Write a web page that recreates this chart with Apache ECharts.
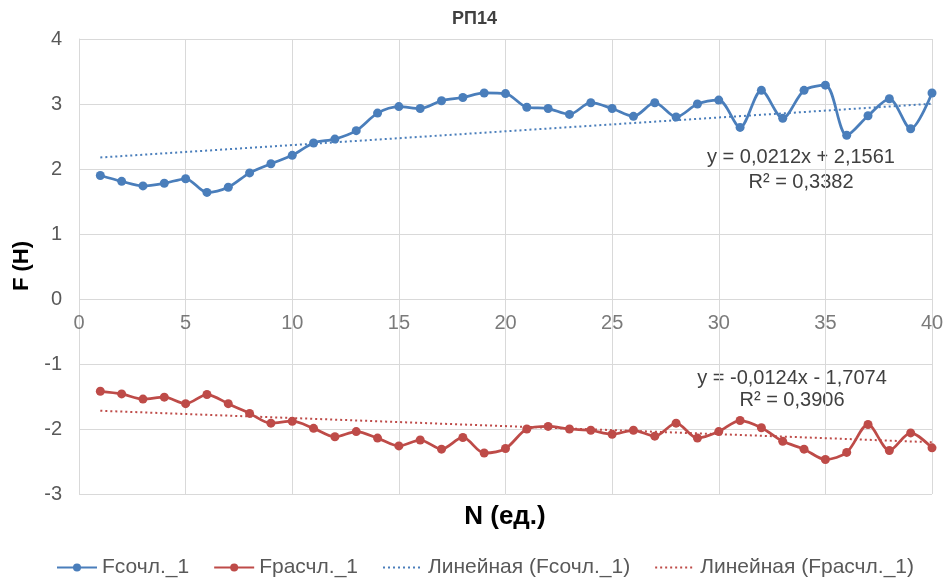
<!DOCTYPE html>
<html>
<head>
<meta charset="utf-8">
<script src="https://cdn.jsdelivr.net/npm/echarts@6/dist/echarts.min.js"></script>
<style>
  html, body { margin: 0; padding: 0; background: #fff; }
  #chart { width: 949px; height: 578px; }
</style>
</head>
<body>
<div id="chart"></div>
<script>
// Measurement index N (ед.)
const nValues = [1,2,3,4,5,6,7,8,9,10,11,12,13,14,15,16,17,18,19,20,
                 21,22,23,24,25,26,27,28,29,30,31,32,33,34,35,36,37,38,39,40];

// Fсочл._1, Н
const fSochl = [1.90,1.81,1.74,1.78,1.85,1.64,1.72,1.94,2.08,2.21,
                2.40,2.46,2.59,2.86,2.96,2.93,3.05,3.10,3.17,3.16,
                2.95,2.93,2.84,3.02,2.93,2.81,3.02,2.80,3.00,3.06,
                2.64,3.21,2.78,3.21,3.29,2.52,2.82,3.08,2.62,3.17];

// Fрасчл._1, Н
const fRaschl = [-1.42,-1.46,-1.54,-1.51,-1.61,-1.47,-1.61,-1.76,-1.91,-1.88,
                 -1.99,-2.12,-2.04,-2.14,-2.26,-2.17,-2.31,-2.13,-2.37,-2.30,
                 -2.00,-1.96,-2.00,-2.02,-2.08,-2.02,-2.11,-1.91,-2.14,-2.04,
                 -1.87,-1.98,-2.19,-2.31,-2.47,-2.36,-1.93,-2.33,-2.06,-2.29];

// Linear trend coefficients (slope, intercept, R²)
const trendSochl = { k: 0.0212, b: 2.1561, r2: 0.3382 };
const trendRaschl = { k: -0.0124, b: -1.7074, r2: 0.3906 };

// N-axis tick labels, drawn along the F = 0 line
const xTickLabels = [0, 5, 10, 15, 20, 25, 30, 35, 40];

const xTicks = { min: 0, max: 40, interval: 5 };
const yTicks = { min: -3, max: 4, interval: 1 };

const BLUE = '#4A7EBB';
const RED = '#BE4B48';
const GRID = '#d9d9d9';
const LABEL = '#595959';
const FONT = 'Liberation Sans, Arial, sans-serif';

const pairs = (xs, ys) => xs.map((x, i) => [x, ys[i]]);
const trendLine = (t) => {
  const x0 = nValues[0], x1 = nValues[nValues.length - 1];
  return [[x0, t.k * x0 + t.b], [x1, t.k * x1 + t.b]];
};
const fmt = (v, d) => v.toFixed(d).replace('.', ',');
const eqText = (t) => {
  const sign = t.b < 0 ? '- ' : '+ ';
  return 'y = ' + fmt(t.k, 4) + 'x ' + sign + fmt(Math.abs(t.b), 4) +
         '\nR² = ' + fmt(t.r2, 4);
};

const chart = echarts.init(document.getElementById('chart'), null, { renderer: 'canvas' });

const option = {
  animation: false,
  backgroundColor: '#ffffff',
  title: {
    text: 'РП14',
    left: 'center',
    top: 5,
    textStyle: { fontFamily: FONT, fontSize: 18, fontWeight: 'bold', color: '#404040' }
  },
  grid: { left: 79, right: 17, top: 39, bottom: 84, containLabel: false },
  xAxis: {
    type: 'value',
    min: xTicks.min, max: xTicks.max, interval: xTicks.interval,
    axisLine: { show: false },
    axisTick: { show: false },
    axisLabel: { show: false },
    splitLine: { show: true, lineStyle: { color: GRID, width: 1 } }
  },
  yAxis: {
    type: 'value',
    min: yTicks.min, max: yTicks.max, interval: yTicks.interval,
    axisLine: { show: true, onZero: false, lineStyle: { color: GRID, width: 1 } },
    axisTick: { show: false },
    axisLabel: { fontFamily: FONT, fontSize: 20, color: LABEL, margin: 17 },
    splitLine: { show: true, lineStyle: { color: GRID, width: 1 } }
  },
  legend: {
    top: 552,
    left: 51,
    itemWidth: 40,
    itemHeight: 10,
    itemGap: 24,
    textStyle: { fontFamily: FONT, fontSize: 21, color: LABEL },
    data: [
      { name: 'Fсочл._1' },
      { name: 'Fрасчл._1' },
      { name: 'Линейная (Fсочл._1)', itemStyle: { opacity: 0 } },
      { name: 'Линейная (Fрасчл._1)', itemStyle: { opacity: 0 } }
    ]
  },
  series: [
    {
      name: 'N-axis labels',
      type: 'scatter',
      data: xTickLabels.map((v) => [v, 0]),
      symbolSize: 0,
      silent: true,
      label: {
        show: true,
        position: 'bottom',
        distance: 14,
        formatter: (p) => String(p.value[0]),
        fontFamily: FONT, fontSize: 20, color: LABEL
      },
      z: 1
    },
    {
      name: 'Fсочл._1',
      type: 'line',
      data: pairs(nValues, fSochl),
      smooth: 0.3,
      symbol: 'circle',
      symbolSize: 9,
      itemStyle: { color: BLUE },
      lineStyle: { color: BLUE, width: 2.75 },
      z: 5
    },
    {
      name: 'Fрасчл._1',
      type: 'line',
      data: pairs(nValues, fRaschl),
      smooth: 0.3,
      symbol: 'circle',
      symbolSize: 9,
      itemStyle: { color: RED },
      lineStyle: { color: RED, width: 2.75 },
      z: 5
    },
    {
      name: 'Линейная (Fсочл._1)',
      type: 'line',
      data: trendLine(trendSochl),
      symbol: 'none',
      itemStyle: { color: BLUE },
      lineStyle: { color: BLUE, width: 2, type: [2, 3] },
      z: 3
    },
    {
      name: 'Линейная (Fрасчл._1)',
      type: 'line',
      data: trendLine(trendRaschl),
      symbol: 'none',
      itemStyle: { color: RED },
      lineStyle: { color: RED, width: 2, type: [2, 3] },
      z: 3
    }
  ],
  graphic: [
    {
      type: 'text', x: 505, y: 517,
      style: { text: 'N (ед.)', font: 'bold 26px ' + FONT, fill: '#000',
               align: 'center', verticalAlign: 'middle' }
    },
    {
      type: 'text', x: 22, y: 266, rotation: Math.PI / 2,
      style: { text: 'F (Н)', font: 'bold 22px ' + FONT, fill: '#000',
               align: 'center', verticalAlign: 'middle' }
    },
    {
      type: 'text', x: 801, y: 169.5,
      style: { text: eqText(trendSochl), font: '20px ' + FONT, fill: '#404040',
               align: 'center', verticalAlign: 'middle', lineHeight: 25 }
    },
    {
      type: 'text', x: 792, y: 389,
      style: { text: eqText(trendRaschl), font: '20px ' + FONT, fill: '#404040',
               align: 'center', verticalAlign: 'middle', lineHeight: 22 }
    }
  ]
};

chart.setOption(option);
</script>
</body>
</html>
